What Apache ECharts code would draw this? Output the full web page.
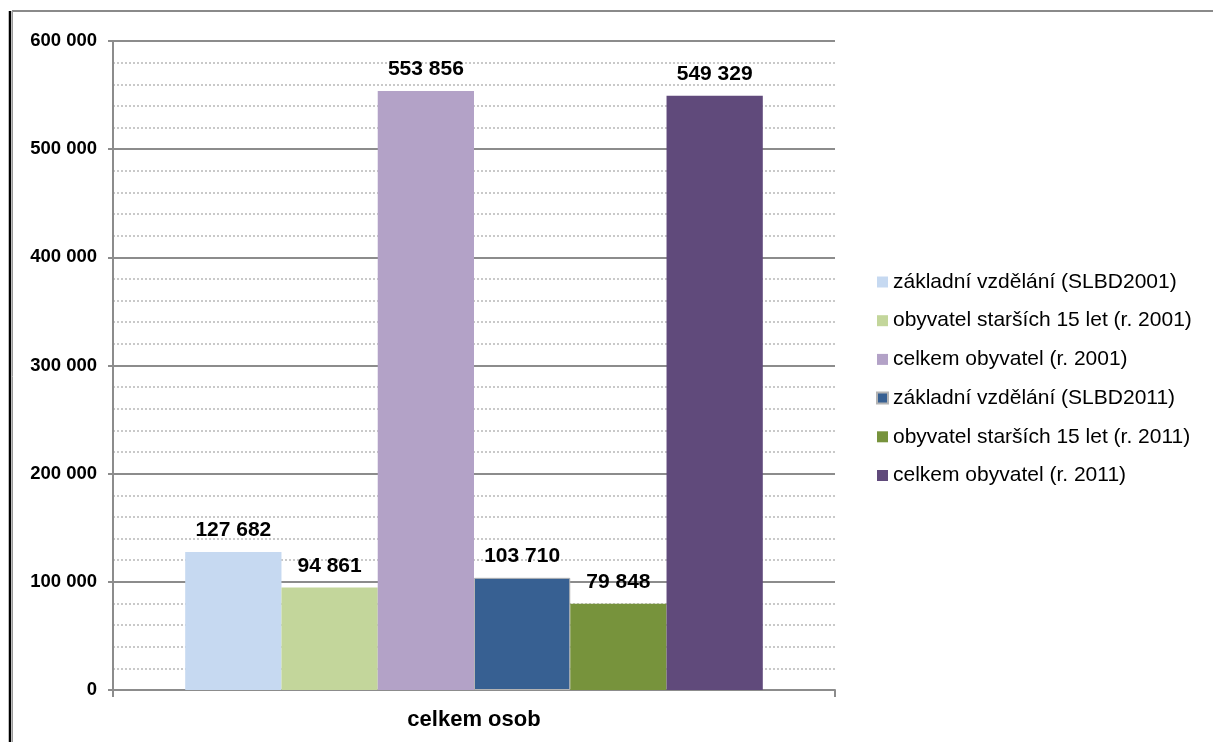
<!DOCTYPE html>
<html>
<head>
<meta charset="utf-8">
<style>
  html, body { margin: 0; padding: 0; background: #fff; }
  #chart { width: 1213px; height: 742px; }
</style>
<script src="https://cdn.jsdelivr.net/npm/echarts@6/dist/echarts.min.js"></script>
</head>
<body>
<div id="chart"></div>
<script>
// data
var categories = ['celkem osob']
var seriesNames = [
  'základní vzdělání (SLBD2001)',
  'obyvatel starších 15 let (r. 2001)',
  'celkem obyvatel (r. 2001)',
  'základní vzdělání (SLBD2011)',
  'obyvatel starších 15 let (r. 2011)',
  'celkem obyvatel (r. 2011)'
]
var seriesValues = [127682, 94861, 553856, 103710, 79848, 549329]
var yTicks = [0, 100000, 200000, 300000, 400000, 500000, 600000]

var palette = ['#c6d9f1', '#c3d69b', '#b3a2c7', '#376092', '#77933c', '#604a7b']
var FONT = '"Liberation Sans", Arial, sans-serif'

function fmt(v) {
  return String(v).replace(/\B(?=(\d{3})+(?!\d))/g, ' ')
}

var myChart = echarts.init(document.getElementById('chart'))

var series = seriesNames.map(function (name, i) {
  var s = {
    name: name,
    type: 'bar',
    barGap: 0,
    barCategoryGap: '20%',
    data: [seriesValues[i]],
    itemStyle: { color: palette[i] },
    label: {
      show: true,
      position: 'top',
      distance: 11,
      formatter: function (p) { return fmt(p.value) },
      fontFamily: FONT,
      fontWeight: 'bold',
      fontSize: 21,
      color: '#000'
    }
  }
  // tmavě modrý sloupec má v originále šedý okraj
  if (i === 3) {
    s.itemStyle.borderColor = '#b4b4b4'
    s.itemStyle.borderWidth = 1
  }
  return s
})

var option = {
  backgroundColor: '#fff',
  animation: false,
  grid: { left: 113, right: 378, top: 41, bottom: 52, containLabel: false },
  legend: {
    orient: 'vertical',
    left: 876,
    top: 271,
    padding: 0,
    icon: 'rect',
    itemWidth: 11,
    itemHeight: 11,
    itemGap: 16.7,
    textStyle: { fontFamily: FONT, fontSize: 21, color: '#000', lineHeight: 22 },
    data: seriesNames
  },
  xAxis: {
    type: 'category',
    data: categories,
    axisLine: { lineStyle: { color: '#8c8c8c', width: 2 } },
    axisTick: { show: true, length: 7, lineStyle: { color: '#8c8c8c', width: 2 } },
    axisLabel: {
      margin: 19,
      fontFamily: FONT,
      fontWeight: 'bold',
      fontSize: 22,
      color: '#000'
    }
  },
  yAxis: {
    type: 'value',
    min: yTicks[0],
    max: yTicks[yTicks.length - 1],
    interval: yTicks[1] - yTicks[0],
    axisLine: { show: true, lineStyle: { color: '#8c8c8c', width: 2 } },
    axisTick: { show: true, length: 5, lineStyle: { color: '#8c8c8c', width: 2 } },
    axisLabel: {
      margin: 16,
      formatter: fmt,
      fontFamily: FONT,
      fontWeight: 'bold',
      fontSize: 18.5,
      color: '#000'
    },
    splitLine: { show: true, lineStyle: { color: '#8c8c8c', width: 2 } },
    minorTick: { show: false, splitNumber: 5 },
    minorSplitLine: { show: true, lineStyle: { color: '#b8b8b8', width: 1.5, type: [2, 2] } }
  },
  graphic: [
    // rám grafu (oříznutý)
    { type: 'line', shape: { x1: 12, y1: 11, x2: 1213, y2: 11 }, style: { stroke: '#8a8a8a', lineWidth: 2 } },
    { type: 'line', shape: { x1: 10, y1: 11, x2: 10, y2: 742 }, style: { stroke: '#000', lineWidth: 2.5 } },
    { type: 'line', shape: { x1: 12.5, y1: 11, x2: 12.5, y2: 742 }, style: { stroke: '#9a9a9a', lineWidth: 1 } }
  ],
  series: series
}

myChart.setOption(option)
</script>
</body>
</html>
